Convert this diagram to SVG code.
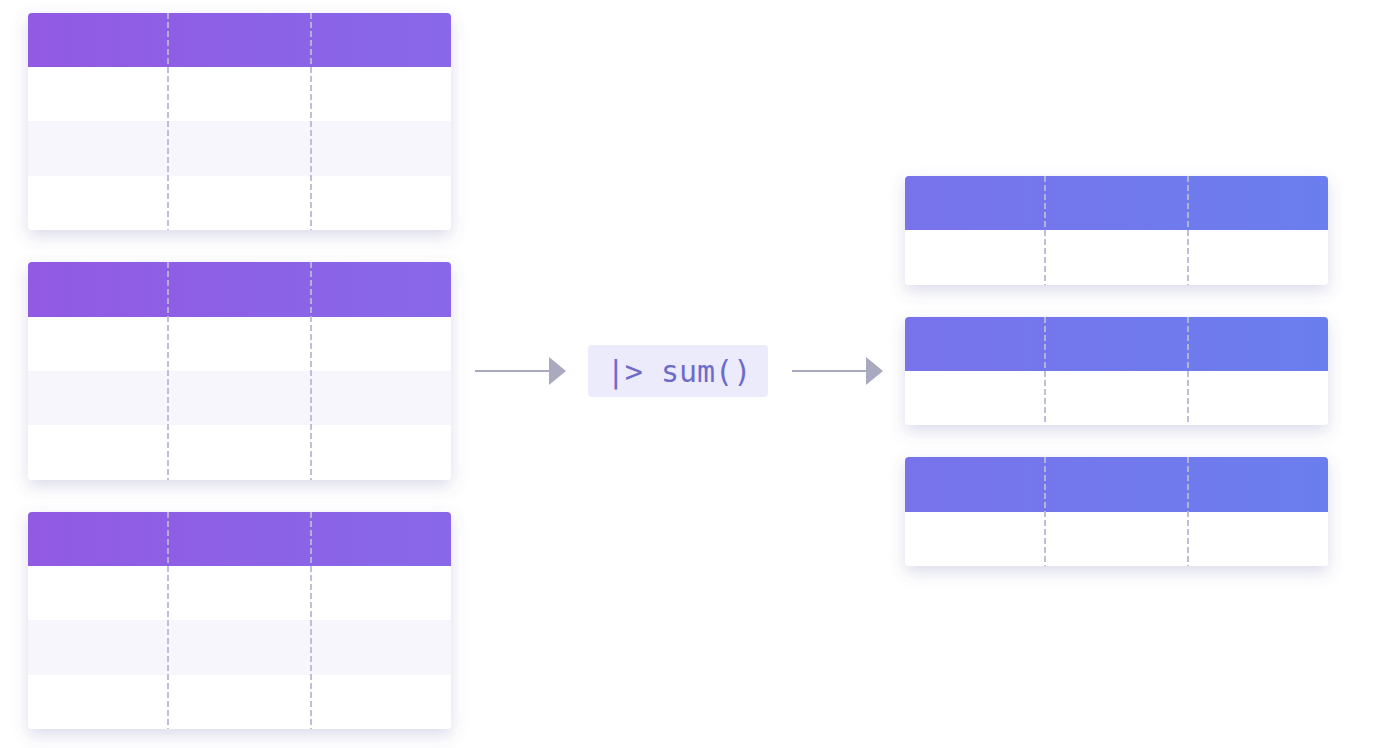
<svg xmlns="http://www.w3.org/2000/svg" width="1378" height="748" viewBox="0 0 1378 748">
<defs>
<linearGradient id="gL" x1="0" y1="0" x2="1" y2="0"><stop offset="0" stop-color="#915AE3"/><stop offset="1" stop-color="#8868E8"/></linearGradient>
<linearGradient id="gR" x1="0" y1="0" x2="1" y2="0"><stop offset="0" stop-color="#7873EB"/><stop offset="1" stop-color="#6B7EEE"/></linearGradient>
<filter id="sh" x="-10%" y="-15%" width="120%" height="140%"><feDropShadow dx="0" dy="6" stdDeviation="8" flood-color="#5a5aa0" flood-opacity="0.22"/></filter>
<clipPath id="cL3"><rect x="0" y="0" width="423" height="217" rx="4"/></clipPath>
<clipPath id="cR1"><rect x="0" y="0" width="423" height="109" rx="4"/></clipPath>
<marker id="ah" viewBox="0 0 17 28" refX="1" refY="14" markerWidth="17" markerHeight="28" markerUnits="userSpaceOnUse" orient="auto"><path d="M0 0 L17 14 L0 28 Z" fill="#A9AAC0"/></marker>
</defs>
<style>
.div{stroke:#BAB9D4;stroke-width:1.8;stroke-dasharray:6 3;fill:none}
.alt{fill:#F6F6FC}
.conn{stroke:#A9AAC0;stroke-width:2;fill:none}
</style>
<rect width="1378" height="748" fill="#ffffff"/>

<g id="in1" transform="translate(28,13)">
<g filter="url(#sh)"><rect width="423" height="217" rx="4" fill="#fff"/></g>
<g clip-path="url(#cL3)">
<rect width="423" height="54" fill="url(#gL)"/>
<rect y="108" width="423" height="55" class="alt"/>
</g>
<line x1="140" y1="0" x2="140" y2="217" class="div"/>
<line x1="283" y1="0" x2="283" y2="217" class="div"/>
</g>

<g id="in2" transform="translate(28,262)">
<g filter="url(#sh)"><rect width="423" height="218" rx="4" fill="#fff"/></g>
<g clip-path="url(#cL3)">
<rect width="423" height="55" fill="url(#gL)"/>
<rect y="109" width="423" height="54" class="alt"/>
</g>
<line x1="140" y1="0" x2="140" y2="218" class="div"/>
<line x1="283" y1="0" x2="283" y2="218" class="div"/>
</g>

<g id="in3" transform="translate(28,512)">
<g filter="url(#sh)"><rect width="423" height="217" rx="4" fill="#fff"/></g>
<g clip-path="url(#cL3)">
<rect width="423" height="54" fill="url(#gL)"/>
<rect y="108" width="423" height="55" class="alt"/>
</g>
<line x1="140" y1="0" x2="140" y2="217" class="div"/>
<line x1="283" y1="0" x2="283" y2="217" class="div"/>
</g>

<g id="op">
<rect x="588" y="345" width="180" height="52" rx="4" fill="#ECEBFC"/>
<text x="679" y="382" text-anchor="middle" font-family="DejaVu Sans Mono, Liberation Mono, monospace" font-size="30" fill="#6E6BC8">|&gt; sum()</text>
</g>

<g id="out1" transform="translate(905,176)">
<g filter="url(#sh)"><rect width="423" height="109" rx="4" fill="#fff"/></g>
<g clip-path="url(#cR1)"><rect width="423" height="54" fill="url(#gR)"/></g>
<line x1="140" y1="0" x2="140" y2="109" class="div"/>
<line x1="283" y1="0" x2="283" y2="109" class="div"/>
</g>

<g id="out2" transform="translate(905,317)">
<g filter="url(#sh)"><rect width="423" height="108" rx="4" fill="#fff"/></g>
<g clip-path="url(#cR1)"><rect width="423" height="54" fill="url(#gR)"/></g>
<line x1="140" y1="0" x2="140" y2="108" class="div"/>
<line x1="283" y1="0" x2="283" y2="108" class="div"/>
</g>

<g id="out3" transform="translate(905,457)">
<g filter="url(#sh)"><rect width="423" height="109" rx="4" fill="#fff"/></g>
<g clip-path="url(#cR1)"><rect width="423" height="55" fill="url(#gR)"/></g>
<line x1="140" y1="0" x2="140" y2="109" class="div"/>
<line x1="283" y1="0" x2="283" y2="109" class="div"/>
</g>

<g id="connectors">
<line x1="475" y1="371" x2="550" y2="371" class="conn" marker-end="url(#ah)"/>
<line x1="792" y1="371" x2="867" y2="371" class="conn" marker-end="url(#ah)"/>
</g>
</svg>
